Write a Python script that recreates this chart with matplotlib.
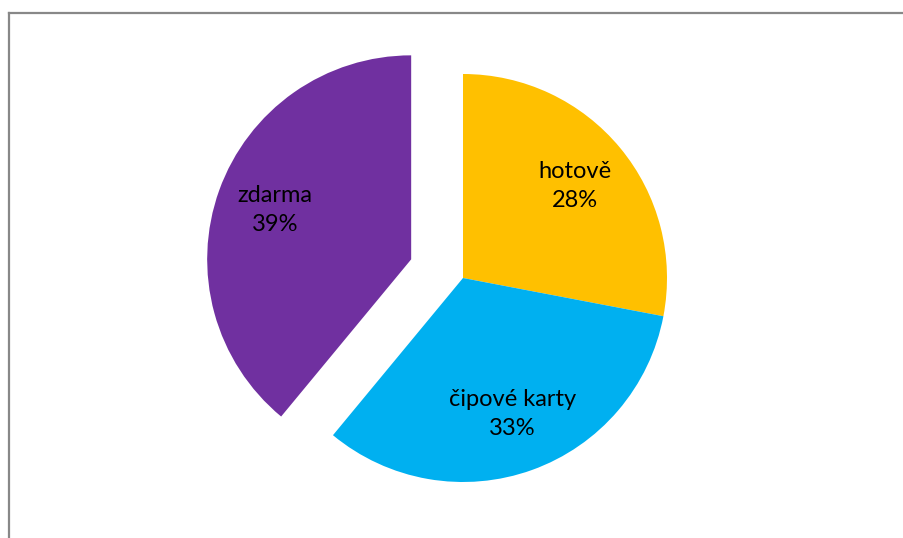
import numpy as np
import matplotlib.pyplot as plt
from matplotlib.lines import Line2D

plt.rcParams['font.family'] = ['Lato', 'DejaVu Sans']

# data
labels = ['hotově', 'čipové karty', 'zdarma']
values = [28, 33, 39]
colors = ['#FFC000', '#00B0F0', '#7030A0']
explode = [0, 0, 0.27]

fig = plt.figure(figsize=(9.04, 5.38), dpi=100)
ax = fig.add_axes([0, 0, 1, 1])

wedges = ax.pie(values, colors=colors, explode=explode, startangle=90,
                counterclock=False, radius=1.0,
                wedgeprops=dict(linewidth=0))[0]

# popisky uvnitř výsečí
for w, lab, v in zip(wedges, labels, values):
    ang = np.deg2rad((w.theta1 + w.theta2) / 2)
    cx, cy = w.center
    d = 0.71
    ax.text(cx + d * np.cos(ang), cy + d * np.sin(ang), f'{lab}\n{v}%',
            ha='center', va='center', fontsize=17, color='black', linespacing=1.45)

# střed koláče (463, 278) px, poloměr 204 px
r = 204.0
ax.set_xlim(-463 / r, (904 - 463) / r)
ax.set_ylim(-(538 - 278) / r, 278 / r)
ax.axis('off')

# šedý rámeček (jen levá a horní hrana)
fig.add_artist(Line2D([8.5 / 904, 8.5 / 904], [0, 1 - 13 / 538], transform=fig.transFigure,
                      color='#888888', linewidth=1.6))
fig.add_artist(Line2D([8.5 / 904, 1], [1 - 13 / 538, 1 - 13 / 538], transform=fig.transFigure,
                      color='#888888', linewidth=1.6))

plt.savefig('out.png', dpi=100)
